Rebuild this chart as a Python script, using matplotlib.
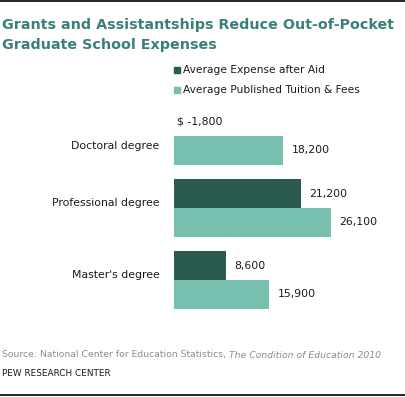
import numpy as np
import matplotlib
matplotlib.use("Agg")
from matplotlib import pyplot as plt
from matplotlib.lines import Line2D
from matplotlib.patches import Rectangle

categories = ["Doctoral degree", "Professional degree", "Master's degree"]
expenseAfterAid = [-1800, 21200, 8600]
publishedTuition = [18200, 26100, 15900]
seriesNames = ["Average Expense after Aid", "Average Published Tuition & Fees"]

darkColor = "#2b5a4f"
lightColor = "#77bfae"
titleColor = "#3a807a"
textColor = "#1a1a1a"

plt.rcParams['font.family'] = ['DejaVu Sans']

W, H = 406, 397
figure = plt.figure(figsize=(W / 100, H / 100), dpi=100)

def fx(px):
    return px / W

def fy(py):
    return 1 - py / H

# axes spans pixel x 174..400, pixel y 100..316
axes = figure.add_axes([fx(174), fy(316), fx(400) - fx(174), fy(100) - fy(316)])
positions = np.arange(len(categories))
barHeight = 0.4
axes.barh(positions - barHeight / 2, expenseAfterAid, height=barHeight, color=darkColor)
axes.barh(positions + barHeight / 2, publishedTuition, height=barHeight, color=lightColor)
axes.set_xlim(0, 226 / 0.006)
axes.set_ylim(2.5, -0.5)
for side in axes.spines.values():
    side.set_visible(False)
axes.set_xticks([])
# category labels sit a little off the group centres in the original
labelShift = [0.12, -0.08, -0.08]
axes.set_yticks(positions + np.array(labelShift))
axes.set_yticklabels(categories, fontsize=7.8, color=textColor)
axes.tick_params(axis='y', length=0, pad=10.5)

for pos, value in zip(positions, expenseAfterAid):
    if value < 0:
        axes.annotate("$ -{:,}".format(abs(value)), (0, pos - barHeight / 2),
                      xytext=(2.5, 0), textcoords='offset points',
                      va='center', ha='left', fontsize=7.8, color=textColor)
    else:
        axes.annotate("{:,}".format(value), (value, pos - barHeight / 2),
                      xytext=(6, 0), textcoords='offset points',
                      va='center', ha='left', fontsize=7.8, color=textColor)
for pos, value in zip(positions, publishedTuition):
    axes.annotate("{:,}".format(value), (value, pos + barHeight / 2),
                  xytext=(6, 0), textcoords='offset points',
                  va='center', ha='left', fontsize=7.8, color=textColor)

# title
figure.text(fx(2), fy(25), "Grants and Assistantships Reduce Out-of-Pocket",
            fontsize=10.3, fontweight='bold', color=titleColor, va='center', ha='left')
figure.text(fx(2), fy(45), "Graduate School Expenses",
            fontsize=10.3, fontweight='bold', color=titleColor, va='center', ha='left')

# legend
legendRows = [(seriesNames[0], darkColor, 70), (seriesNames[1], lightColor, 90)]
for name, color, py in legendRows:
    square = Rectangle((fx(174), fy(py + 3)), fx(6), 6 / H,
                       color=color, transform=figure.transFigure, figure=figure)
    figure.patches.append(square)
    figure.text(fx(183), fy(py), name, fontsize=7.7, color=textColor, va='center', ha='left')

# source
sourceText = figure.text(fx(2), fy(355), "Source: National Center for Education Statistics, ",
                         fontsize=6.7, color="#8c8c8c", va='center', ha='left')
figure.canvas.draw()
bbox = sourceText.get_window_extent()
figure.text(bbox.x1 / W, fy(355), "The Condition of Education 2010",
            fontsize=6.7, color="#8c8c8c", va='center', ha='left', style='italic')
figure.text(fx(2), fy(374), "PEW RESEARCH CENTER", fontsize=6.4, color=textColor,
            va='center', ha='left')

# rules at top and bottom
figure.add_artist(Line2D([0, 1], [fy(1), fy(1)], color="black", lw=1.2))
figure.add_artist(Line2D([0, 1], [fy(395), fy(395)], color="black", lw=1.2))

figure.savefig("out.png", dpi=100)
